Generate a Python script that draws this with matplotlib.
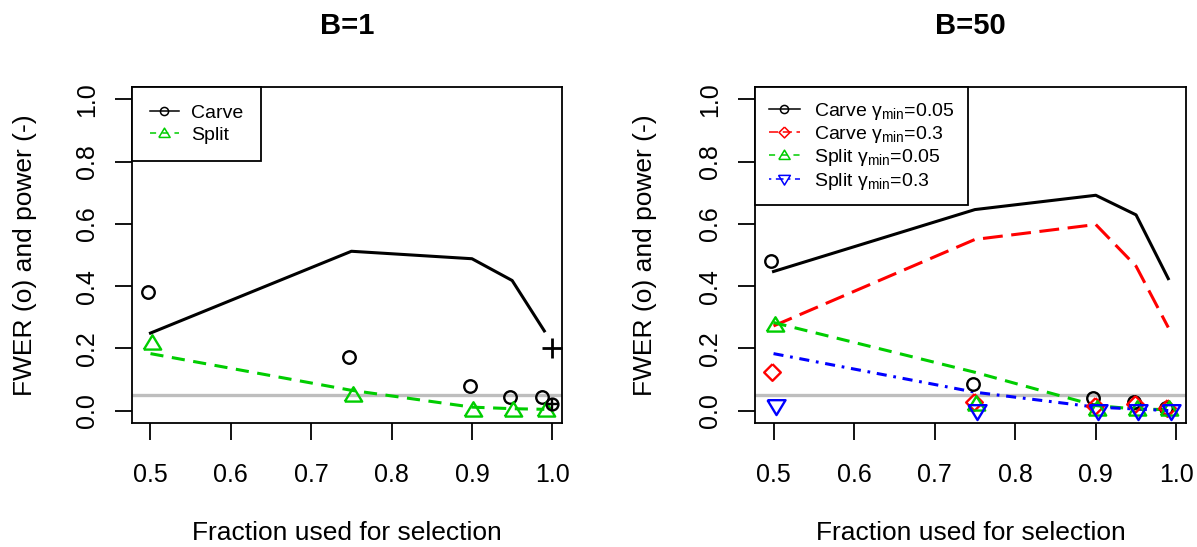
import matplotlib
matplotlib.use("Agg")
import matplotlib.pyplot as plt
from matplotlib.lines import Line2D

plt.rcParams['font.family'] = ['Liberation Sans', 'DejaVu Sans']
plt.rcParams['mathtext.fontset'] = 'custom'
plt.rcParams['mathtext.rm'] = 'Liberation Sans'
plt.rcParams['mathtext.it'] = 'Liberation Sans:italic'

# fraction of data used for selection
frac = [0.5, 0.75, 0.9, 0.95, 0.99]

# B=1
carve_power_b1 = [0.249, 0.512, 0.488, 0.418, 0.256]
carve_fwer_b1 = [0.381, 0.171, 0.080, 0.045, 0.045]
split_power_b1 = [0.183, 0.065, 0.011, 0.006, 0.004]
split_fwer_b1 = [0.217, 0.050, 0.003, 0.003, 0.003]
extra_x_b1 = 1.0
extra_power_b1 = 0.202
extra_fwer_b1 = 0.022

# B=50
carve005_power = [0.447, 0.646, 0.692, 0.629, 0.424]
carve005_fwer = [0.480, 0.085, 0.040, 0.028, 0.008]
carve03_power = [0.272, 0.550, 0.598, 0.464, 0.267]
carve03_fwer = [0.125, 0.029, 0.015, 0.021, 0.008]
split005_power = [0.283, 0.123, 0.016, 0.005, 0.003]
split005_fwer = [0.274, 0.021, 0.005, 0.005, 0.005]
split03_power = [0.183, 0.059, 0.011, 0.005, 0.000]
split03_fwer = [0.016, 0.000, 0.000, 0.000, 0.000]

alpha_level = 0.05

# marker shapes like R pch
TRI_UP = [(-1, -0.7), (1, -0.7), (0, 0.95), (-1, -0.7)]
TRI_DN = [(-1, 0.7), (1, 0.7), (0, -0.95), (-1, 0.7)]
DIAM = [(0, 1), (1, 0), (0, -1), (-1, 0), (0, 1)]

GREEN = '#00CD00'
LW = 2.2
MEW = 1.7

styles = {
    'carve': dict(color='black', ls='-', marker='o', ms=9, off=-0.003),
    'carve03': dict(color='red', ls=(0, (6.5, 2.8)), marker=DIAM, ms=12, off=-0.0015),
    'split': dict(color=GREEN, ls=(0, (4.3, 2.8)), marker=TRI_UP, ms=12.5, off=0.0015),
    'split03': dict(color='blue', ls=(0, (3.3, 2.2, 0.9, 2.2)), marker=TRI_DN, ms=13, off=0.003),
}
leg_ls = {
    'carve': '-',
    'carve03': (0, (6, 3)),
    'split': (0, (4, 4)),
    'split03': (0, (1.5, 3, 5, 3)),
}


def draw(ax, key, power, fwer):
    s = styles[key]
    ax.plot(frac, power, color=s['color'], ls=s['ls'], lw=LW, zorder=3)
    ax.plot([f + s['off'] for f in frac], fwer, ls='none', marker=s['marker'],
            ms=s['ms'], mfc='none', mec=s['color'], mew=MEW, zorder=4)


def handle(key, label):
    s = styles[key]
    return Line2D([], [], color=s['color'], ls=leg_ls[key], lw=1.1,
                  marker=s['marker'], ms=s['ms'] * 0.65, mfc='none',
                  mec=s['color'], mew=1.1, label=label)


def style_axes(ax, ylab_x):
    ax.set_xlim(0.477, 1.012)
    ax.set_ylim(-0.04, 1.04)
    ax.set_xticks([0.5, 0.6, 0.7, 0.8, 0.9, 1.0])
    ax.set_yticks([0.0, 0.2, 0.4, 0.6, 0.8, 1.0])
    ax.set_xticklabels(['0.5', '0.6', '0.7', '0.8', '0.9', '1.0'])
    ax.set_yticklabels(['0.0', '0.2', '0.4', '0.6', '0.8', '1.0'])
    ax.tick_params(length=12, width=1.3, labelsize=18)
    ax.tick_params(axis='x', pad=17)
    ax.tick_params(axis='y', pad=12)
    for lab in ax.get_yticklabels():
        lab.set_rotation(90)
        lab.set_va('center')
    for sp in ax.spines.values():
        sp.set_linewidth(1.3)
    ax.axhline(alpha_level, color='#BEBEBE', lw=2.4, zorder=1)
    ax.set_xlabel('Fraction used for selection', fontsize=19)
    ax.set_ylabel('FWER (o) and power (-)', fontsize=19)
    ax.xaxis.set_label_coords(0.5, -0.327)
    ax.xaxis.label.set_va('center')
    ax.yaxis.set_label_coords(ylab_x, 0.5)
    ax.yaxis.label.set_va('center')


fig = plt.figure(figsize=(11.97, 5.47), dpi=100)
ax1 = fig.add_axes([132 / 1197, 1 - 423 / 547, 430 / 1197, 336 / 547])
ax2 = fig.add_axes([755 / 1197, 1 - 423 / 547, 431 / 1197, 336 / 547])

# B=1
style_axes(ax1, -0.249)
draw(ax1, 'carve', carve_power_b1, carve_fwer_b1)
draw(ax1, 'split', split_power_b1, split_fwer_b1)
ax1.plot(extra_x_b1, extra_power_b1, ls='none', marker='+', ms=15, mew=2, color='black', zorder=4)
ax1.plot(extra_x_b1, extra_fwer_b1, ls='none', marker='o', ms=8.5, mfc='none', mec='black', mew=MEW, zorder=4)
ax1.plot(extra_x_b1, extra_fwer_b1, ls='none', marker='+', ms=8.5, mew=MEW, color='black', zorder=4)
leg1 = ax1.legend(handles=[handle('carve', 'Carve'), handle('split', 'Split')],
                  loc='upper left', borderaxespad=0, fancybox=False, framealpha=1,
                  edgecolor='black', fontsize=14, handlelength=1.5, handletextpad=0.63,
                  labelspacing=0.2, borderpad=0.9, numpoints=1)
leg1.get_frame().set_linewidth(1.3)

# B=50
style_axes(ax2, -0.256)
draw(ax2, 'carve', carve005_power, carve005_fwer)
draw(ax2, 'carve03', carve03_power, carve03_fwer)
draw(ax2, 'split', split005_power, split005_fwer)
draw(ax2, 'split03', split03_power, split03_fwer)
leg2 = ax2.legend(handles=[handle('carve', r'Carve $\mathrm{\gamma_{min}}$=0.05'),
                           handle('carve03', r'Carve $\mathrm{\gamma_{min}}$=0.3'),
                           handle('split', r'Split $\mathrm{\gamma_{min}}$=0.05'),
                           handle('split03', r'Split $\mathrm{\gamma_{min}}$=0.3')],
                  loc='upper left', borderaxespad=0, fancybox=False, framealpha=1,
                  edgecolor='black', fontsize=14, handlelength=1.6, handletextpad=0.74,
                  labelspacing=0.12, borderpad=0.7, numpoints=1)
leg2.get_frame().set_linewidth(1.3)

fig.text((132 + 562) / 2 / 1197, 1 - 34 / 547, 'B=1', fontsize=21, fontweight='bold',
         ha='center', va='baseline')
fig.text((755 + 1186) / 2 / 1197, 1 - 34 / 547, 'B=50', fontsize=21, fontweight='bold',
         ha='center', va='baseline')

fig.savefig('out.png', dpi=100)
